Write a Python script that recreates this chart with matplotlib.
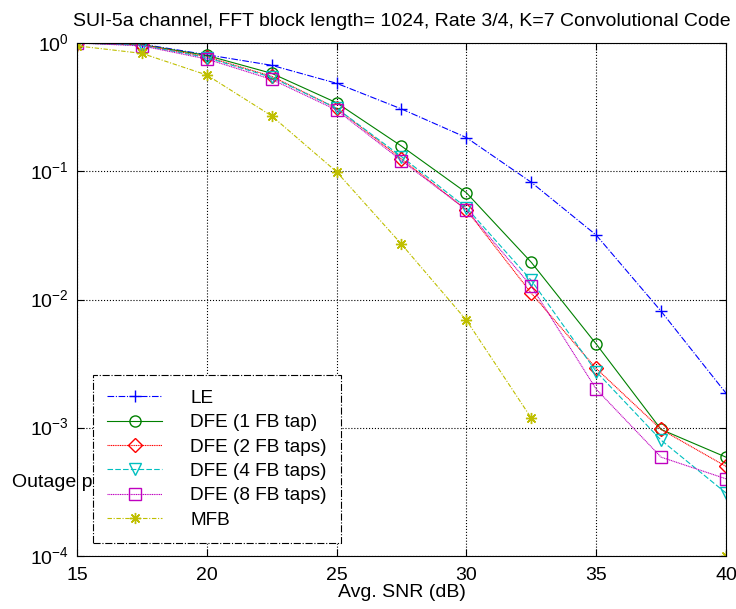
import numpy as np
import matplotlib
matplotlib.use("Agg")
import matplotlib.pyplot as plt
from matplotlib.transforms import ScaledTranslation

plt.rcParams['font.family'] = ['Liberation Sans', 'DejaVu Sans']
plt.rcParams['mathtext.fontset'] = 'custom'
plt.rcParams['mathtext.rm'] = 'Liberation Sans'
plt.rcParams['mathtext.default'] = 'regular'

snr = [15, 17.5, 20, 22.5, 25, 27.5, 30, 32.5, 35, 37.5, 40]
le = [1.0, 0.98, 0.81, 0.67, 0.485, 0.306, 0.183, 0.082, 0.0318, 0.0081, 0.00186]
dfe1 = [1.0, 0.97, 0.80, 0.58, 0.342, 0.157, 0.068, 0.0195, 0.0045, 0.00097, 0.00059]
dfe2 = [1.0, 0.97, 0.78, 0.55, 0.31, 0.125, 0.05, 0.0112, 0.0029, 0.00097, 0.0005]
dfe4 = [1.0, 0.96, 0.77, 0.54, 0.31, 0.13, 0.052, 0.0141, 0.00274, 0.0008, 0.00031]
dfe8 = [1.0, 0.95, 0.75, 0.52, 0.30, 0.121, 0.05, 0.0127, 0.0020, 0.00059, 0.0004]
mfb = [0.95, 0.83, 0.563, 0.27, 0.099, 0.027, 0.0069, 0.00119, np.nan, np.nan, 0.0001]

labels = ['LE', 'DFE (1 FB tap)', 'DFE (2 FB taps)', 'DFE (4 FB taps)',
          'DFE (8 FB taps)', 'MFB']

fig = plt.figure(figsize=(7.36, 6.09), dpi=100)
ax = fig.add_axes([0.1046, 0.087, 0.8818, 0.8424])

fs = 14
ax.semilogy(snr, le, color=(0, 0, 1), ls=(0, (6, 1.5, 1, 1.5)), lw=0.8, marker='+', ms=9, label=labels[0])
ax.semilogy(snr, dfe1, color=(0, 0.5, 0), ls='-', lw=0.8, marker='o', ms=8, mfc='none', label=labels[1])
ax.semilogy(snr, dfe2, color=(1, 0, 0), ls=(0, (1, 0.6)), lw=0.8, marker='D', ms=7, mfc='none', label=labels[2])
ax.semilogy(snr, dfe4, color=(0, 0.75, 0.75), ls=(0, (5, 2)), lw=0.8, marker='v', ms=9, mfc='none', label=labels[3])
ax.semilogy(snr, dfe8, color=(0.75, 0, 0.75), ls=(0, (1, 0.6)), lw=0.8, marker='s', ms=8, mfc='none', label=labels[4])
ax.semilogy(snr, mfb, color=(0.75, 0.75, 0), ls=(0, (4, 1.5, 1, 1.5)), lw=0.8, marker=(8, 2, 0), ms=8, label=labels[5])

ax.set_xlim(15, 40)
ax.set_ylim(1e-4, 1)
ax.set_xticks([15, 20, 25, 30, 35, 40])
ax.set_yticks([1e-4, 1e-3, 1e-2, 1e-1, 1])
ax.minorticks_off()
ax.tick_params(direction='in', top=True, right=True, labelsize=fs, length=5, width=0.8)
ax.tick_params(axis='x', pad=8)
ax.tick_params(axis='y', pad=6)
ax.grid(True, color='black', ls=':', lw=0.8)
for s in ax.spines.values():
    s.set_linewidth(0.8)

# keep the "10" centred on the tick, exponent sticking up (MATLAB style)
for t in ax.yaxis.get_major_ticks():
    t.label1.set_verticalalignment('baseline')
    t.label1.set_transform(t.label1.get_transform()
                           + ScaledTranslation(0, -5.5 / 72, fig.dpi_scale_trans))

ax.set_title('SUI-5a channel, FFT block length= 1024, Rate 3/4, K=7 Convolutional Code',
             fontsize=fs, pad=12)
ax.set_xlabel('Avg. SNR (dB)', fontsize=fs, labelpad=0)
ax.text(-0.1, 0.144, 'Outage probability', transform=ax.transAxes, fontsize=fs,
        ha='left', va='center', clip_on=False, zorder=3)

leg = ax.legend(loc='lower left', bbox_to_anchor=(0.0247, 0.0253), fontsize=13.7,
                fancybox=False, framealpha=1, edgecolor='black', borderaxespad=0,
                handlelength=2.9, handletextpad=1.45, labelspacing=0.37,
                borderpad=0.75)
leg.get_frame().set_linestyle('-.')
leg.get_frame().set_linewidth(0.8)
leg.set_zorder(5)

fig.savefig('out.png', dpi=100)
